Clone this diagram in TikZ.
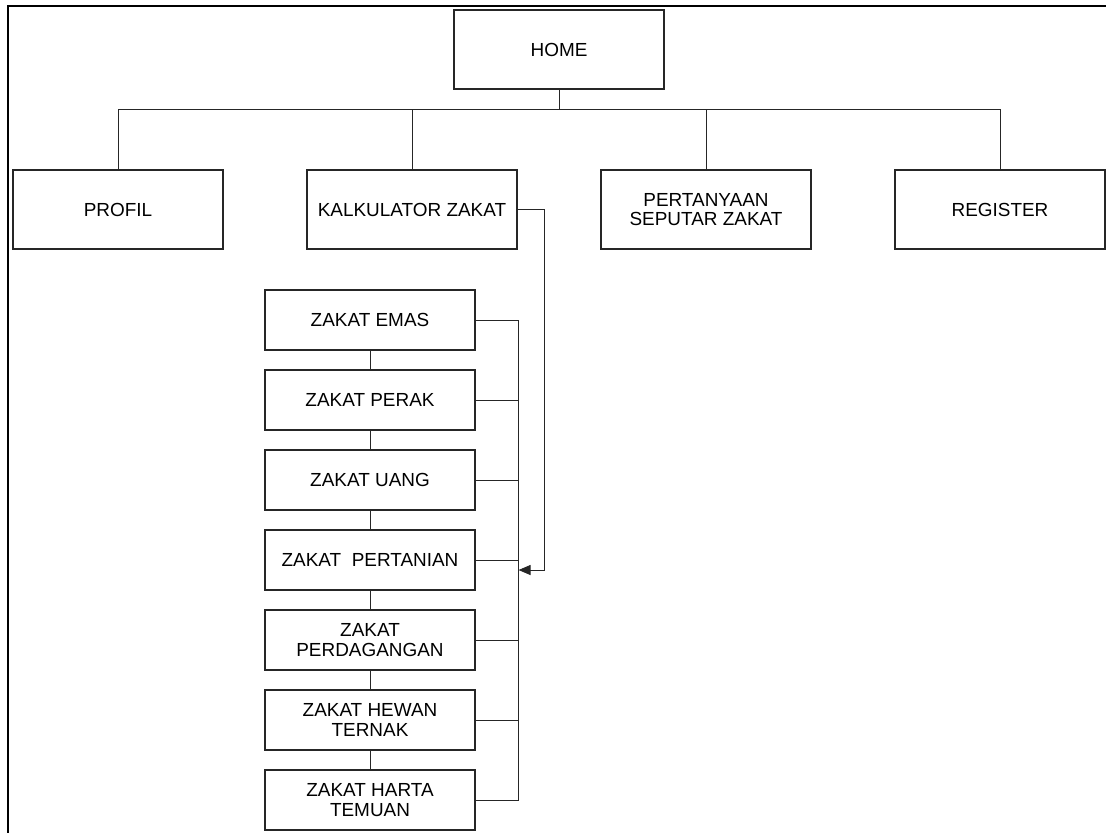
\documentclass[tikz,border=0pt]{standalone}
\usepackage{fontspec}
\setmainfont{Liberation Sans}
\usetikzlibrary{positioning,arrows.meta}

\begin{document}
\begin{tikzpicture}[x=0.75pt,y=-0.75pt,on grid,
    font=\fontsize{14.2}{14.4}\selectfont,
    menu/.style={draw=black!85,line width=0.8pt,align=center,inner sep=1pt,
      minimum width=157.5pt,minimum height=59.25pt},
    sub/.style={menu,minimum height=45pt},
    link/.style={draw=black!85,line width=0.7pt}]
   \useasboundingbox (0,0) rectangle (1106,833);
   \draw[line width=1.6pt] (1106,6) -- (8,6) -- (8,833);

   \node[menu] (home) at (559,49.5) {HOME};
   \node[menu] (kalk) at (412,209.5) {KALKULATOR ZAKAT};
   \node[menu] (profil) [left=220.5pt of kalk] {PROFIL};
   \node[menu] (tanya) [right=220.5pt of kalk] {PERTANYAAN\\SEPUTAR ZAKAT};
   \node[menu] (reg) [right=220.5pt of tanya] {REGISTER};

   \node[sub] (emas) at (370,320) {ZAKAT EMAS};
   \node[sub] (perak) [below=60pt of emas] {ZAKAT PERAK};
   \node[sub] (uang) [below=60pt of perak] {ZAKAT UANG};
   \node[sub] (tani) [below=60pt of uang] {ZAKAT\ \ PERTANIAN};
   \node[sub] (dagang) [below=60pt of tani] {ZAKAT\\PERDAGANGAN};
   \node[sub] (hewan) [below=60pt of dagang] {ZAKAT HEWAN\\TERNAK};
   \node[sub] (temuan) [below=60pt of hewan] {ZAKAT HARTA\\TEMUAN};

   \path[link]
    (profil.north) -- ++(0,-60) coordinate (bus) -| (reg.north)
    (home.south) -- (home.south |- bus)
    (kalk.north) -- (kalk.north |- bus)
    (tanya.north) -- (tanya.north |- bus);

   \foreach \a/\b in {emas/perak,perak/uang,uang/tani,tani/dagang,dagang/hewan,hewan/temuan}
     \path[link] (\a) -- (\b);

   \path[link] (emas.east) -- ++(43,0) coordinate (rbus) -- (rbus |- temuan.east) -- (temuan.east);
   \foreach \n in {perak,uang,tani,dagang,hewan}
     \path[link] (\n.east) -- (\n.east -| rbus);

   \path[link,-{Triangle[length=9pt,width=7.5pt]}]
    (kalk.east) -- ++(27,0) |- (rbus |- 0,570);
\end{tikzpicture}
\end{document}
